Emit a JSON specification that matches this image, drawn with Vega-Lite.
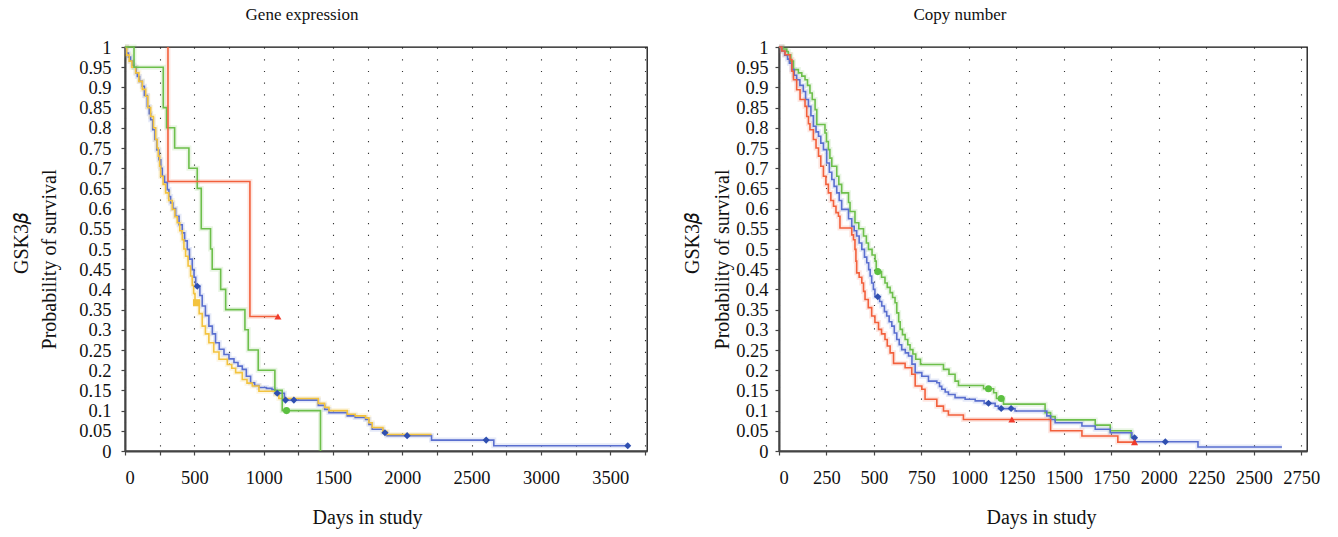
{
  "$schema": "https://vega.github.io/schema/vega-lite/v6.json",
  "padding": {"left": 10, "top": 5, "right": 5, "bottom": 5},
  "autosize": {"type": "pad"},
  "background": "white",
  "config": {
    "font": "Liberation Serif",
    "view": {"stroke": "#111", "strokeWidth": 1.3},
    "style": {"guide-label": {"font": "Liberation Serif"}, "guide-title": {"font": "Liberation Serif"}},
    "axis": {
      "labelFont": "Liberation Serif", "titleFont": "Liberation Serif",
      "labelFontSize": 18.5, "titleFontSize": 20, "labelColor": "#111", "titleColor": "#111",
      "titleFontWeight": "normal", "domainColor": "#444", "domainWidth": 2,
      "tickColor": "#444", "tickSize": 4, "tickWidth": 1.2,
      "gridColor": "#000", "gridDash": [1.2, 10.5], "gridWidth": 1.1, "gridOpacity": 0.8
    },
    "title": {"font": "Liberation Serif", "fontSize": 17, "fontWeight": "normal", "color": "#111"}
  },
  "bounds": "flush",
  "spacing": 132,
  "hconcat": [
    {
      "width": 522, "height": 404,
      "title": {"text": "Gene expression", "frame": "group", "dx": -84, "offset": 0, "baseline": "alphabetic"},
      "encoding": {
        "x": {"field": "t", "type": "quantitative", "scale": {"domain": [0, 3765], "nice": false, "zero": true},
          "axis": {"values": [0,250,500,750,1000,1250,1500,1750,2000,2250,2500,2750,3000,3250,3500,3750],
            "labelExpr": "datum.value % 500 === 0 ? datum.label : ''", "format": "d",
            "title": "Days in study", "labelPadding": 13, "titleX": 242, "titleY": 72, "titleBaseline": "alphabetic"}}
      },
      "layer": [
        {"data": {"name": "geL"}, "mark": {"type": "line", "interpolate": "step-after", "strokeWidth": 5, "opacity": 0.15},
          "encoding": {"y": {"field": "s", "type": "quantitative", "scale": {"domain": [0, 1], "nice": false}, "axis": null},
            "stroke": {"field": "g", "type": "nominal", "scale": {"domain": ["blue","yellow","green","red"], "range": ["#5a6fcf","#f3c33f","#6dbf4b","#f2603c"]}, "legend": null}}},
        {"data": {"name": "geL"}, "mark": {"type": "line", "interpolate": "step-after", "strokeWidth": 1.6},
          "encoding": {"y": {"field": "s", "type": "quantitative", "scale": {"domain": [0, 1], "nice": false},
              "axis": {"values": [0,0.05,0.1,0.15,0.2,0.25,0.3,0.35,0.4,0.45,0.5,0.55,0.6,0.65,0.7,0.75,0.8,0.85,0.9,0.95,1], "format": ".2~f",
                "title": "Probability of survival", "labelPadding": 10, "titleX": -76, "titleY": 212, "titleBaseline": "middle", "orient": "left"}},
            "stroke": {"field": "g", "type": "nominal", "scale": {"domain": ["blue","yellow","green","red"], "range": ["#5a6fcf","#f3c33f","#6dbf4b","#f2603c"]}, "legend": null}}},
        {"data": {"name": "geC"}, "mark": {"type": "point", "filled": true, "size": 50, "opacity": 1},
          "encoding": {"y": {"field": "s", "type": "quantitative", "scale": {"domain": [0, 1], "nice": false},
              "axis": {"title": "GSK3𝛽", "orient": "left", "labels": false, "ticks": false, "domain": false, "grid": false, "titleX": -104, "titleY": 196, "titleBaseline": "middle"}},
            "fill": {"field": "g", "type": "nominal", "scale": {"domain": ["blue","yellow","green","red"], "range": ["#2f4fb0","#f3c33f","#5cc040","#f03a2a"]}, "legend": null},
            "shape": {"field": "g", "type": "nominal", "scale": {"domain": ["blue","yellow","green","red"], "range": ["diamond","square","circle","triangle-up"]}, "legend": null}}}
      ],
      "resolve": {"axis": {"y": "independent"}}
    },
    {
      "width": 528, "height": 404,
      "title": {"text": "Copy number", "frame": "group", "dx": -83, "offset": 0, "baseline": "alphabetic"},
      "encoding": {
        "x": {"field": "t", "type": "quantitative", "scale": {"domain": [0, 2780], "nice": false, "zero": true},
          "axis": {"values": [0,250,500,750,1000,1250,1500,1750,2000,2250,2500,2750], "format": "d",
            "title": "Days in study", "labelPadding": 13, "titleX": 262, "titleY": 72, "titleBaseline": "alphabetic"}}
      },
      "layer": [
        {"data": {"name": "cnL"}, "mark": {"type": "line", "interpolate": "step-after", "strokeWidth": 5, "opacity": 0.15},
          "encoding": {"y": {"field": "s", "type": "quantitative", "scale": {"domain": [0, 1], "nice": false}, "axis": null},
            "stroke": {"field": "g", "type": "nominal", "scale": {"domain": ["blue","green","red"], "range": ["#5a6fcf","#6dbf4b","#f2603c"]}, "legend": null}}},
        {"data": {"name": "cnL"}, "mark": {"type": "line", "interpolate": "step-after", "strokeWidth": 1.6},
          "encoding": {"y": {"field": "s", "type": "quantitative", "scale": {"domain": [0, 1], "nice": false},
              "axis": {"values": [0,0.05,0.1,0.15,0.2,0.25,0.3,0.35,0.4,0.45,0.5,0.55,0.6,0.65,0.7,0.75,0.8,0.85,0.9,0.95,1], "format": ".2~f",
                "title": "Probability of survival", "labelPadding": 7, "titleX": -57, "titleY": 212, "titleBaseline": "middle", "orient": "left"}},
            "stroke": {"field": "g", "type": "nominal", "scale": {"domain": ["blue","green","red"], "range": ["#5a6fcf","#6dbf4b","#f2603c"]}, "legend": null}}},
        {"data": {"name": "cnC"}, "mark": {"type": "point", "filled": true, "size": 50, "opacity": 1},
          "encoding": {"y": {"field": "s", "type": "quantitative", "scale": {"domain": [0, 1], "nice": false},
              "axis": {"title": "GSK3𝛽", "orient": "left", "labels": false, "ticks": false, "domain": false, "grid": false, "titleX": -87, "titleY": 196, "titleBaseline": "middle"}},
            "fill": {"field": "g", "type": "nominal", "scale": {"domain": ["blue","green","red"], "range": ["#2f4fb0","#5cc040","#f03a2a"]}, "legend": null},
            "shape": {"field": "g", "type": "nominal", "scale": {"domain": ["blue","green","red"], "range": ["diamond","circle","triangle-up"]}, "legend": null}}}
      ],
      "resolve": {"axis": {"y": "independent"}}
    }
  ],
  "datasets": {
    "geL": [
      {"g":"blue","t":0,"s":1},{"g":"blue","t":10,"s":0.985},{"g":"blue","t":25,"s":0.975},{"g":"blue","t":40,"s":0.965},{"g":"blue","t":55,"s":0.955},{"g":"blue","t":65,"s":0.95},{"g":"blue","t":80,"s":0.935},{"g":"blue","t":89,"s":0.927},{"g":"blue","t":105,"s":0.915},{"g":"blue","t":125,"s":0.903},{"g":"blue","t":140,"s":0.88},{"g":"blue","t":161,"s":0.853},{"g":"blue","t":175,"s":0.835},{"g":"blue","t":185,"s":0.82},{"g":"blue","t":200,"s":0.795},{"g":"blue","t":216,"s":0.771},{"g":"blue","t":230,"s":0.745},{"g":"blue","t":245,"s":0.721},{"g":"blue","t":258,"s":0.7},{"g":"blue","t":269,"s":0.68},{"g":"blue","t":285,"s":0.665},{"g":"blue","t":305,"s":0.647},{"g":"blue","t":317,"s":0.63},{"g":"blue","t":329,"s":0.614},{"g":"blue","t":345,"s":0.6},{"g":"blue","t":365,"s":0.581},{"g":"blue","t":390,"s":0.56},{"g":"blue","t":413,"s":0.54},{"g":"blue","t":430,"s":0.52},{"g":"blue","t":449,"s":0.499},{"g":"blue","t":465,"s":0.475},{"g":"blue","t":485,"s":0.449},{"g":"blue","t":498,"s":0.43},{"g":"blue","t":510,"s":0.408},{"g":"blue","t":540,"s":0.385},{"g":"blue","t":557,"s":0.359},{"g":"blue","t":580,"s":0.335},{"g":"blue","t":605,"s":0.309},{"g":"blue","t":630,"s":0.29},{"g":"blue","t":653,"s":0.268},{"g":"blue","t":680,"s":0.252},{"g":"blue","t":714,"s":0.239},{"g":"blue","t":750,"s":0.228},{"g":"blue","t":786,"s":0.219},{"g":"blue","t":815,"s":0.21},{"g":"blue","t":846,"s":0.202},{"g":"blue","t":875,"s":0.185},{"g":"blue","t":906,"s":0.169},{"g":"blue","t":935,"s":0.162},{"g":"blue","t":966,"s":0.157},{"g":"blue","t":1020,"s":0.155},{"g":"blue","t":1060,"s":0.152},{"g":"blue","t":1085,"s":0.143},{"g":"blue","t":1150,"s":0.126},{"g":"blue","t":1394,"s":0.113},{"g":"blue","t":1440,"s":0.103},{"g":"blue","t":1471,"s":0.095},{"g":"blue","t":1603,"s":0.087},{"g":"blue","t":1660,"s":0.083},{"g":"blue","t":1735,"s":0.078},{"g":"blue","t":1759,"s":0.066},{"g":"blue","t":1783,"s":0.054},{"g":"blue","t":1860,"s":0.045},{"g":"blue","t":1890,"s":0.038},{"g":"blue","t":2211,"s":0.027},{"g":"blue","t":2660,"s":0.013},{"g":"blue","t":3640,"s":0.013},
      {"g":"yellow","t":0,"s":1},{"g":"yellow","t":12,"s":0.98},{"g":"yellow","t":30,"s":0.965},{"g":"yellow","t":50,"s":0.95},{"g":"yellow","t":77,"s":0.936},{"g":"yellow","t":100,"s":0.915},{"g":"yellow","t":125,"s":0.895},{"g":"yellow","t":149,"s":0.878},{"g":"yellow","t":165,"s":0.85},{"g":"yellow","t":185,"s":0.828},{"g":"yellow","t":205,"s":0.8},{"g":"yellow","t":221,"s":0.771},{"g":"yellow","t":232,"s":0.75},{"g":"yellow","t":240,"s":0.73},{"g":"yellow","t":250,"s":0.705},{"g":"yellow","t":257,"s":0.68},{"g":"yellow","t":275,"s":0.66},{"g":"yellow","t":293,"s":0.639},{"g":"yellow","t":315,"s":0.62},{"g":"yellow","t":341,"s":0.598},{"g":"yellow","t":360,"s":0.58},{"g":"yellow","t":377,"s":0.565},{"g":"yellow","t":395,"s":0.545},{"g":"yellow","t":413,"s":0.523},{"g":"yellow","t":425,"s":0.5},{"g":"yellow","t":437,"s":0.482},{"g":"yellow","t":455,"s":0.458},{"g":"yellow","t":473,"s":0.433},{"g":"yellow","t":485,"s":0.41},{"g":"yellow","t":495,"s":0.39},{"g":"yellow","t":505,"s":0.367},{"g":"yellow","t":535,"s":0.34},{"g":"yellow","t":557,"s":0.309},{"g":"yellow","t":580,"s":0.29},{"g":"yellow","t":605,"s":0.268},{"g":"yellow","t":640,"s":0.245},{"g":"yellow","t":678,"s":0.227},{"g":"yellow","t":738,"s":0.214},{"g":"yellow","t":770,"s":0.205},{"g":"yellow","t":798,"s":0.194},{"g":"yellow","t":846,"s":0.177},{"g":"yellow","t":880,"s":0.168},{"g":"yellow","t":918,"s":0.161},{"g":"yellow","t":966,"s":0.148},{"g":"yellow","t":1086,"s":0.14},{"g":"yellow","t":1110,"s":0.13},{"g":"yellow","t":1394,"s":0.118},{"g":"yellow","t":1440,"s":0.108},{"g":"yellow","t":1471,"s":0.1},{"g":"yellow","t":1603,"s":0.091},{"g":"yellow","t":1660,"s":0.087},{"g":"yellow","t":1735,"s":0.082},{"g":"yellow","t":1759,"s":0.07},{"g":"yellow","t":1783,"s":0.058},{"g":"yellow","t":1860,"s":0.048},{"g":"yellow","t":1890,"s":0.041},{"g":"yellow","t":2211,"s":0.041},
      {"g":"green","t":0,"s":1},{"g":"green","t":65,"s":0.95},{"g":"green","t":276,"s":0.85},{"g":"green","t":300,"s":0.8},{"g":"green","t":358,"s":0.75},{"g":"green","t":461,"s":0.7},{"g":"green","t":521,"s":0.65},{"g":"green","t":550,"s":0.55},{"g":"green","t":617,"s":0.5},{"g":"green","t":629,"s":0.45},{"g":"green","t":690,"s":0.4},{"g":"green","t":726,"s":0.35},{"g":"green","t":865,"s":0.3},{"g":"green","t":889,"s":0.25},{"g":"green","t":961,"s":0.2},{"g":"green","t":1081,"s":0.15},{"g":"green","t":1134,"s":0.1},{"g":"green","t":1410,"s":0},
      {"g":"red","t":310,"s":1},{"g":"red","t":310,"s":0.667},{"g":"red","t":901,"s":0.333},{"g":"red","t":1103,"s":0.333}
    ],
    "geC": [
      {"g":"blue","t":521,"s":0.408},{"g":"blue","t":1098,"s":0.143},{"g":"blue","t":1158,"s":0.126},{"g":"blue","t":1218,"s":0.126},{"g":"blue","t":1875,"s":0.045},{"g":"blue","t":2035,"s":0.038},{"g":"blue","t":2605,"s":0.027},{"g":"blue","t":3626,"s":0.013},
      {"g":"yellow","t":516,"s":0.367},
      {"g":"green","t":1165,"s":0.1},
      {"g":"red","t":1103,"s":0.333}
    ],
    "cnL": [
      {"g":"green","t":0,"s":1},{"g":"green","t":20,"s":0.995},{"g":"green","t":41,"s":0.989},{"g":"green","t":49,"s":0.981},{"g":"green","t":62,"s":0.965},{"g":"green","t":76,"s":0.944},{"g":"green","t":102,"s":0.936},{"g":"green","t":120,"s":0.928},{"g":"green","t":137,"s":0.919},{"g":"green","t":150,"s":0.905},{"g":"green","t":163,"s":0.886},{"g":"green","t":175,"s":0.87},{"g":"green","t":190,"s":0.845},{"g":"green","t":199,"s":0.808},{"g":"green","t":242,"s":0.787},{"g":"green","t":250,"s":0.766},{"g":"green","t":260,"s":0.746},{"g":"green","t":268,"s":0.725},{"g":"green","t":278,"s":0.705},{"g":"green","t":304,"s":0.68},{"g":"green","t":315,"s":0.66},{"g":"green","t":330,"s":0.639},{"g":"green","t":366,"s":0.615},{"g":"green","t":374,"s":0.593},{"g":"green","t":400,"s":0.565},{"g":"green","t":420,"s":0.55},{"g":"green","t":445,"s":0.532},{"g":"green","t":460,"s":0.515},{"g":"green","t":471,"s":0.499},{"g":"green","t":490,"s":0.485},{"g":"green","t":506,"s":0.47},{"g":"green","t":512,"s":0.444},{"g":"green","t":540,"s":0.43},{"g":"green","t":558,"s":0.416},{"g":"green","t":570,"s":0.405},{"g":"green","t":585,"s":0.392},{"g":"green","t":598,"s":0.38},{"g":"green","t":611,"s":0.367},{"g":"green","t":620,"s":0.342},{"g":"green","t":630,"s":0.32},{"g":"green","t":638,"s":0.301},{"g":"green","t":650,"s":0.288},{"g":"green","t":664,"s":0.276},{"g":"green","t":678,"s":0.263},{"g":"green","t":690,"s":0.251},{"g":"green","t":705,"s":0.24},{"g":"green","t":720,"s":0.227},{"g":"green","t":745,"s":0.214},{"g":"green","t":866,"s":0.202},{"g":"green","t":895,"s":0.19},{"g":"green","t":927,"s":0.173},{"g":"green","t":945,"s":0.162},{"g":"green","t":1077,"s":0.154},{"g":"green","t":1130,"s":0.144},{"g":"green","t":1145,"s":0.13},{"g":"green","t":1182,"s":0.116},{"g":"green","t":1401,"s":0.095},{"g":"green","t":1430,"s":0.085},{"g":"green","t":1454,"s":0.077},{"g":"green","t":1665,"s":0.064},{"g":"green","t":1744,"s":0.05},{"g":"green","t":1854,"s":0.035},{"g":"green","t":1870,"s":0.035},
      {"g":"blue","t":0,"s":1},{"g":"blue","t":15,"s":0.99},{"g":"blue","t":30,"s":0.98},{"g":"blue","t":45,"s":0.97},{"g":"blue","t":55,"s":0.96},{"g":"blue","t":67,"s":0.944},{"g":"blue","t":80,"s":0.93},{"g":"blue","t":93,"s":0.919},{"g":"blue","t":110,"s":0.905},{"g":"blue","t":128,"s":0.89},{"g":"blue","t":140,"s":0.87},{"g":"blue","t":155,"s":0.853},{"g":"blue","t":168,"s":0.83},{"g":"blue","t":181,"s":0.804},{"g":"blue","t":195,"s":0.79},{"g":"blue","t":208,"s":0.779},{"g":"blue","t":220,"s":0.762},{"g":"blue","t":234,"s":0.746},{"g":"blue","t":251,"s":0.713},{"g":"blue","t":265,"s":0.69},{"g":"blue","t":278,"s":0.672},{"g":"blue","t":290,"s":0.655},{"g":"blue","t":304,"s":0.639},{"g":"blue","t":317,"s":0.62},{"g":"blue","t":330,"s":0.598},{"g":"blue","t":366,"s":0.575},{"g":"blue","t":383,"s":0.556},{"g":"blue","t":396,"s":0.545},{"g":"blue","t":409,"s":0.532},{"g":"blue","t":422,"s":0.515},{"g":"blue","t":436,"s":0.499},{"g":"blue","t":450,"s":0.48},{"g":"blue","t":462,"s":0.466},{"g":"blue","t":472,"s":0.449},{"g":"blue","t":480,"s":0.433},{"g":"blue","t":488,"s":0.416},{"g":"blue","t":497,"s":0.4},{"g":"blue","t":505,"s":0.382},{"g":"blue","t":530,"s":0.37},{"g":"blue","t":541,"s":0.359},{"g":"blue","t":555,"s":0.345},{"g":"blue","t":567,"s":0.334},{"g":"blue","t":580,"s":0.32},{"g":"blue","t":594,"s":0.309},{"g":"blue","t":607,"s":0.292},{"g":"blue","t":620,"s":0.276},{"g":"blue","t":633,"s":0.263},{"g":"blue","t":646,"s":0.251},{"g":"blue","t":665,"s":0.243},{"g":"blue","t":682,"s":0.235},{"g":"blue","t":700,"s":0.215},{"g":"blue","t":717,"s":0.194},{"g":"blue","t":752,"s":0.185},{"g":"blue","t":787,"s":0.173},{"g":"blue","t":831,"s":0.169},{"g":"blue","t":845,"s":0.16},{"g":"blue","t":857,"s":0.153},{"g":"blue","t":875,"s":0.146},{"g":"blue","t":892,"s":0.14},{"g":"blue","t":927,"s":0.132},{"g":"blue","t":980,"s":0.128},{"g":"blue","t":1033,"s":0.124},{"g":"blue","t":1080,"s":0.118},{"g":"blue","t":1138,"s":0.111},{"g":"blue","t":1155,"s":0.105},{"g":"blue","t":1243,"s":0.099},{"g":"blue","t":1410,"s":0.087},{"g":"blue","t":1430,"s":0.078},{"g":"blue","t":1454,"s":0.07},{"g":"blue","t":1595,"s":0.062},{"g":"blue","t":1665,"s":0.054},{"g":"blue","t":1744,"s":0.045},{"g":"blue","t":1858,"s":0.033},{"g":"blue","t":1875,"s":0.023},{"g":"blue","t":2206,"s":0.01},{"g":"blue","t":2648,"s":0.01},
      {"g":"red","t":0,"s":1},{"g":"red","t":15,"s":0.99},{"g":"red","t":32,"s":0.981},{"g":"red","t":58,"s":0.969},{"g":"red","t":68,"s":0.94},{"g":"red","t":76,"s":0.919},{"g":"red","t":93,"s":0.894},{"g":"red","t":111,"s":0.87},{"g":"red","t":137,"s":0.853},{"g":"red","t":146,"s":0.828},{"g":"red","t":155,"s":0.81},{"g":"red","t":163,"s":0.795},{"g":"red","t":181,"s":0.771},{"g":"red","t":195,"s":0.75},{"g":"red","t":208,"s":0.73},{"g":"red","t":220,"s":0.705},{"g":"red","t":234,"s":0.68},{"g":"red","t":247,"s":0.66},{"g":"red","t":260,"s":0.639},{"g":"red","t":273,"s":0.62},{"g":"red","t":287,"s":0.606},{"g":"red","t":300,"s":0.59},{"g":"red","t":313,"s":0.581},{"g":"red","t":321,"s":0.552},{"g":"red","t":383,"s":0.535},{"g":"red","t":392,"s":0.523},{"g":"red","t":400,"s":0.499},{"g":"red","t":405,"s":0.47},{"g":"red","t":409,"s":0.441},{"g":"red","t":422,"s":0.43},{"g":"red","t":436,"s":0.416},{"g":"red","t":445,"s":0.395},{"g":"red","t":453,"s":0.375},{"g":"red","t":470,"s":0.355},{"g":"red","t":488,"s":0.334},{"g":"red","t":505,"s":0.318},{"g":"red","t":524,"s":0.301},{"g":"red","t":540,"s":0.29},{"g":"red","t":558,"s":0.276},{"g":"red","t":570,"s":0.26},{"g":"red","t":585,"s":0.243},{"g":"red","t":603,"s":0.217},{"g":"red","t":664,"s":0.206},{"g":"red","t":699,"s":0.19},{"g":"red","t":717,"s":0.161},{"g":"red","t":752,"s":0.153},{"g":"red","t":769,"s":0.128},{"g":"red","t":831,"s":0.111},{"g":"red","t":866,"s":0.099},{"g":"red","t":892,"s":0.089},{"g":"red","t":971,"s":0.078},{"g":"red","t":1430,"s":0.05},{"g":"red","t":1595,"s":0.037},{"g":"red","t":1784,"s":0.022},{"g":"red","t":1872,"s":0.022}
    ],
    "cnC": [
      {"g":"green","t":520,"s":0.444},{"g":"green","t":1103,"s":0.154},{"g":"green","t":1170,"s":0.13},
      {"g":"blue","t":520,"s":0.382},{"g":"blue","t":1103,"s":0.118},{"g":"blue","t":1170,"s":0.105},{"g":"blue","t":1222,"s":0.105},{"g":"blue","t":1872,"s":0.033},{"g":"blue","t":2034,"s":0.023},
      {"g":"red","t":1226,"s":0.078},{"g":"red","t":1872,"s":0.022}
    ]
  }
}
